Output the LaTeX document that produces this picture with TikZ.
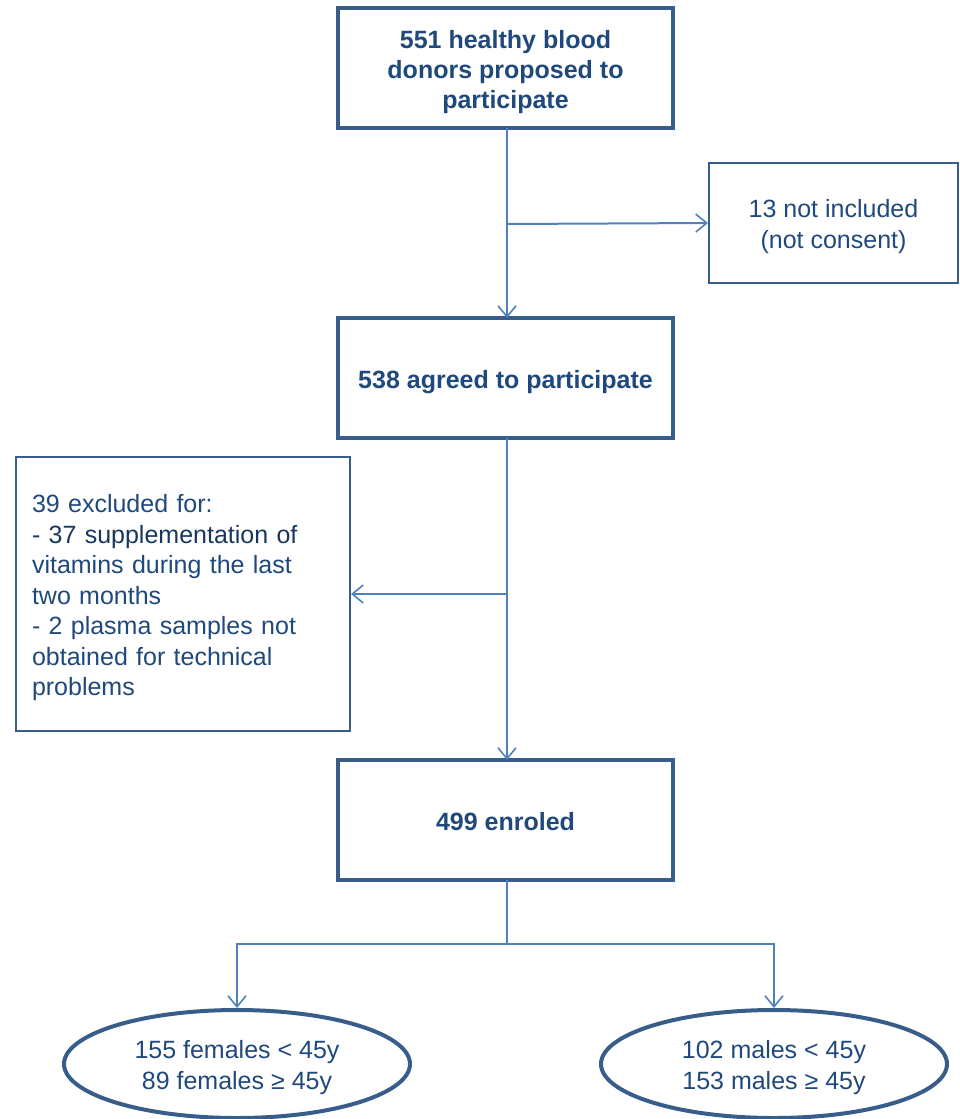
\documentclass[tikz,border=0pt]{standalone}
\usepackage{fontspec}
\setmainfont{Liberation Sans}
\usetikzlibrary{shapes.geometric,arrows.meta}
\definecolor{txtblue}{HTML}{1F497D}
\definecolor{txtdark}{HTML}{17375E}
\definecolor{boxblue}{HTML}{385D8A}
\definecolor{lineblue}{HTML}{4F81BD}
% lower the text a little, keeping the box size
\newcommand{\boxtext}[2]{\raisebox{-4pt}[\height][\depth]{\begin{tabular}{@{}#1@{}}#2\end{tabular}}}
\tikzset{
  mainbox/.style={draw=boxblue, line width=4pt, minimum width=335pt, minimum height=120pt, text=txtblue, font=\fontsize{25}{30}\selectfont\bfseries},
  sidebox/.style={draw=boxblue, line width=2pt, text=txtblue, font=\fontsize{25}{30.5}\selectfont},
  groupoval/.style={ellipse, draw=boxblue, line width=4pt, minimum width=346pt, minimum height=108pt, inner sep=0pt, text=txtblue, font=\fontsize{25}{31}\selectfont},
  flow/.style={draw=lineblue, line width=2pt, -{Straight Barb[length=11pt,width=18pt,line width=1.6pt]}},
}
\begin{document}
\begin{tikzpicture}[x=1pt,y=-1pt]
	\useasboundingbox (0,0) rectangle (959,1119);
	\node[mainbox] (donors) at (505.5,68) {\boxtext{c}{551 healthy blood\\donors proposed to\\participate}};
	\node[sidebox, minimum width=249pt, minimum height=120pt] (notinc) at (833.5,223) {\boxtext{c}{13 not included\\(not consent)}};
	\node[mainbox] (agreed) at (505.5,378) {\boxtext{c}{538 agreed to participate}};
	\node[sidebox, minimum width=334pt, minimum height=274pt, inner xsep=16pt, text width=302pt] (excl) at (183,594) {\boxtext{l}{39 excluded for:\\{\color{txtdark}- 37 supplementation of}\\vitamins during the last\\two months\\- 2 plasma samples not\\obtained for technical\\problems}};
	\node[mainbox] (enrol) at (505.5,820) {\boxtext{c}{499 enroled}};
	\node[groupoval] (fem) at (237,1064) {\boxtext{c}{155 females < 45y\\89 females ≥ 45y}};
	\node[groupoval] (mal) at (774,1064) {\boxtext{c}{102 males < 45y\\153 males ≥ 45y}};
	\coordinate (split) at (507,944);
	\draw[flow] (507,128) -- (507,318);
	\draw[flow] (507,224) -- (notinc.west);
	\draw[flow] (507,438) -- (507,760);
	\draw[flow] (507,594) -- (excl.east);
	\draw[flow,-] (507,880) -- (split);
	\draw[flow] (split) -| (fem.north);
	\draw[flow] (split) -| (mal.north);
\end{tikzpicture}
\end{document}
